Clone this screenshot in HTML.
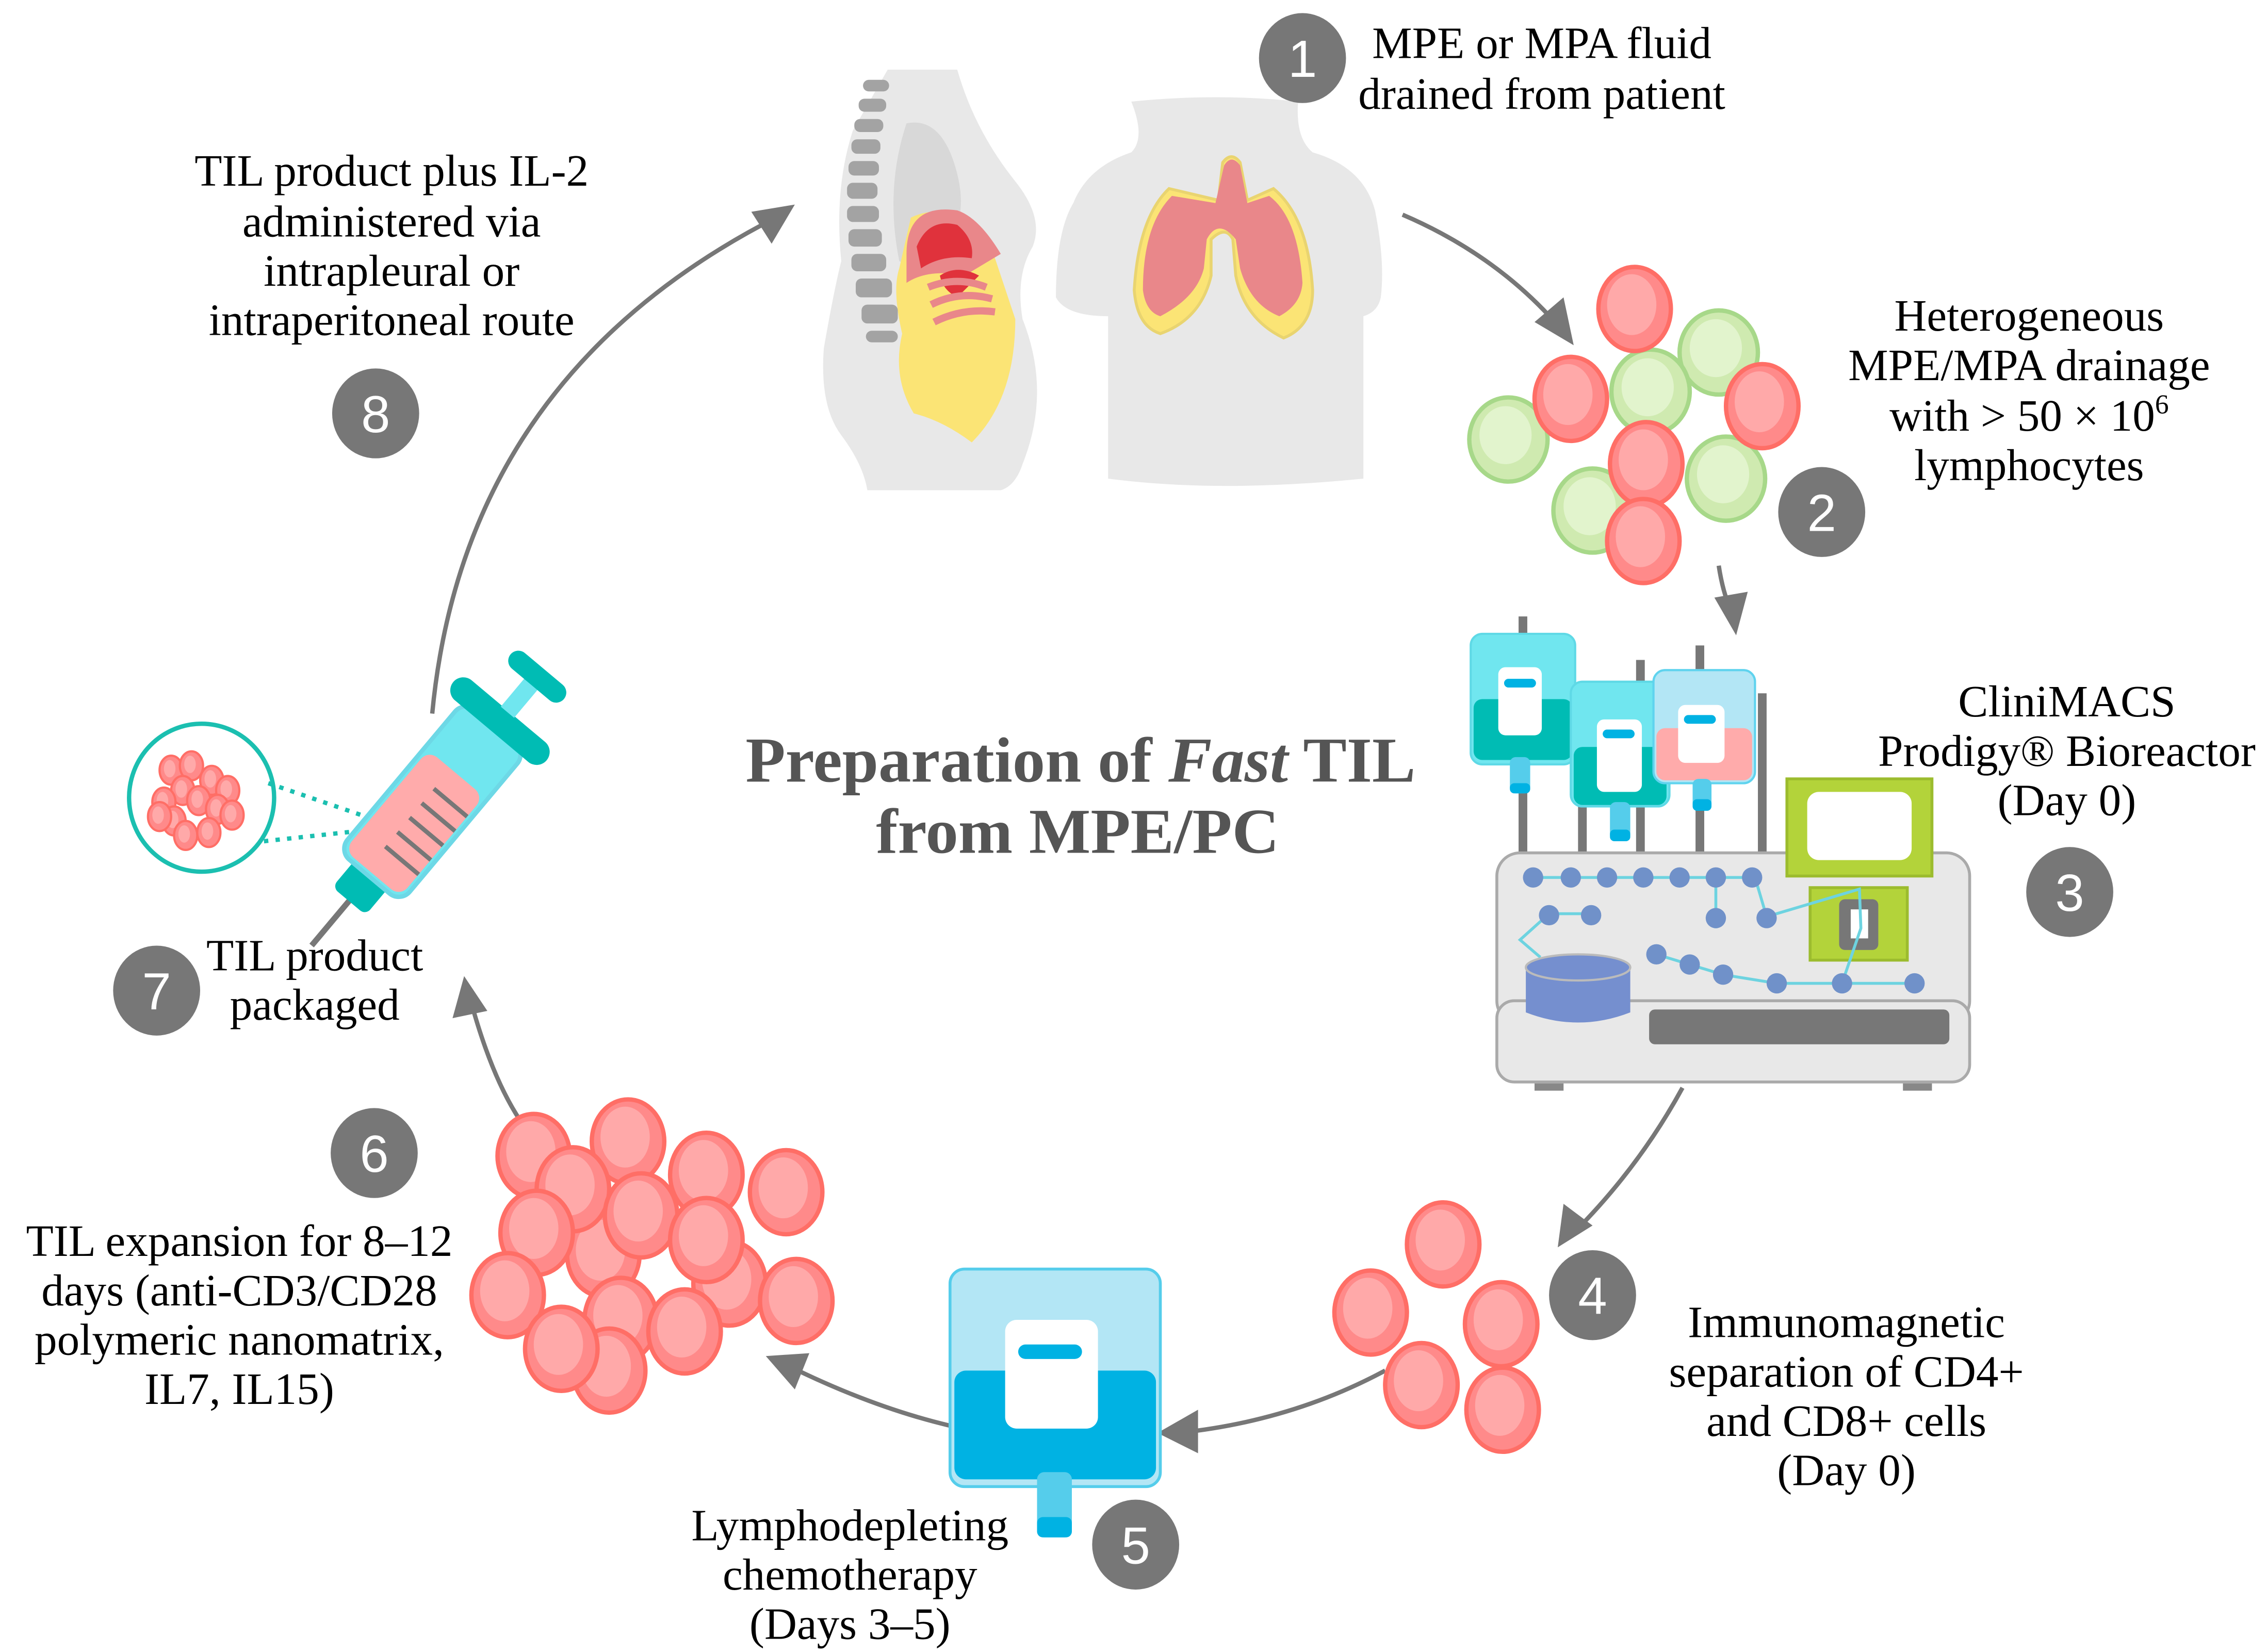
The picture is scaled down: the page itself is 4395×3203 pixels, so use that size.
<!DOCTYPE html>
<html><head><meta charset="utf-8"><style>
html,body{margin:0;padding:0;background:#fff;}
svg{display:block;}
text{font-family:"Liberation Serif",serif;}
text.n{font-family:"Liberation Sans",sans-serif;}
</style></head><body>
<svg width="4395" height="3203" viewBox="0 0 1563 1139" xmlns="http://www.w3.org/2000/svg">
<defs>
<g id="rc"><ellipse rx="25" ry="29" fill="#ff8a8a" stroke="#ff6e66" stroke-width="3"/><ellipse cx="-2" cy="-3" rx="17" ry="21" fill="#ffa9a9"/></g>
<g id="gc"><ellipse rx="27" ry="29" fill="#cfeab0" stroke="#a7d889" stroke-width="3"/><ellipse cx="-2" cy="-3" rx="18" ry="20" fill="#e2f4cd"/></g>
<g id="sc"><ellipse rx="8" ry="10" fill="#ff8a8a" stroke="#ff6e66" stroke-width="1.5"/><ellipse cx="-1" cy="-1" rx="4" ry="6" fill="#ffa9a9"/></g>
</defs>

<!-- arrows -->
<g fill="none" stroke="#777" stroke-width="3">
<path d="M967,148 Q1030,175 1072,222"/>
<path d="M1185,390 Q1188,410 1195,425"/>
<path d="M1160,750 Q1130,805 1085,850"/>
<path d="M955,945 Q890,980 812,988"/>
<path d="M655,983 Q600,970 540,940"/>
<path d="M357,770 Q338,740 324,688"/>
<path d="M298,492 Q320,260 535,150"/>
</g>
<g fill="#777">
<path d="M1085,238 L1058,222 L1078,205 Z"/>
<path d="M1197,438 L1182,412 L1205,408 Z"/>
<path d="M1074,860 L1078,830 L1098,845 Z"/>
<path d="M798,988 L826,972 L826,1002 Z"/>
<path d="M528,935 L558,933 L548,958 Z"/>
<path d="M320,673 L312,702 L336,697 Z"/>
<path d="M548,141 L518,146 L532,168 Z"/>
</g>

<!-- side body -->
<path d="M612,48 L660,48 Q672,90 700,125 Q720,150 712,170 Q700,190 705,220 Q725,270 705,320 Q700,335 690,338 L598,338 Q595,320 580,300 Q565,280 568,240 Q575,200 580,180 Q575,130 588,90 Z" fill="#e8e8e8"/>
<path d="M625,85 Q650,80 660,120 Q665,140 660,155 Q640,150 635,175 Q630,185 620,180 Q610,130 625,85Z" fill="#d8d8d8"/>
<path d="M628,150 Q660,135 685,175 L700,220 Q700,275 670,305 Q650,290 630,285 Q615,260 622,230 Q615,200 620,185 Z" fill="#fbe475"/>
<path d="M625,175 Q625,140 660,145 Q675,150 690,175 L665,190 Q640,185 625,195 Z" fill="#e9878a"/>
<path d="M632,170 Q640,150 660,155 Q672,165 670,178 Q650,175 635,185Z" fill="#e0323c"/>
<path d="M648,190 Q660,182 675,190 L660,205 Q650,200 648,190Z" fill="#e0323c"/>
<path d="M640,198 Q660,190 680,198 M642,210 Q662,200 684,206 M644,222 Q664,212 686,215" stroke="#e9878a" stroke-width="5" fill="none"/>
<g fill="#a3a3a3">
<rect x="595" y="55" width="18" height="8" rx="4"/><rect x="592" y="68" width="19" height="9" rx="4"/><rect x="589" y="82" width="20" height="9" rx="4"/><rect x="587" y="96" width="20" height="10" rx="4"/><rect x="585" y="111" width="21" height="10" rx="4"/><rect x="584" y="126" width="21" height="11" rx="4"/><rect x="584" y="142" width="22" height="11" rx="4"/><rect x="585" y="158" width="23" height="12" rx="4"/><rect x="587" y="175" width="24" height="12" rx="4"/><rect x="590" y="192" width="25" height="13" rx="4"/><rect x="594" y="210" width="25" height="13" rx="4"/><rect x="597" y="228" width="22" height="8" rx="4"/>
</g>
<!-- front torso -->
<path d="M780,70 Q840,64 895,70 Q893,95 905,105 Q940,115 948,145 Q955,180 952,205 Q950,215 940,218 L940,330 Q840,340 764,330 L764,218 Q735,218 728,205 Q728,160 740,140 Q750,115 780,105 Q790,95 780,70Z" fill="#e8e8e8"/>
<path d="M806,130 Q785,150 782,200 Q784,225 800,230 Q828,220 835,190 L835,165 Q845,155 850,165 L852,190 Q858,220 885,233 Q905,225 905,200 Q902,150 878,130 L860,138 L855,112 Q849,104 843,112 L840,138Z" fill="#fbe475" stroke="#e9d470" stroke-width="2"/>
<path d="M808,135 Q788,155 788,200 Q790,215 800,218 Q825,205 830,185 L832,165 Q840,150 852,165 L855,185 Q862,210 882,218 Q897,210 898,195 Q895,150 875,135 L860,140 L855,114 Q849,106 844,114 L838,140Z" fill="#e9878a"/>

<!-- number circles -->
<g fill="#777">
<ellipse cx="898" cy="40" rx="30" ry="31"/>
<ellipse cx="1256" cy="353" rx="30" ry="31"/>
<ellipse cx="1427" cy="615" rx="30" ry="31"/>
<ellipse cx="1098" cy="893" rx="30" ry="31"/>
<ellipse cx="783" cy="1065" rx="30" ry="31"/>
<ellipse cx="258" cy="795" rx="30" ry="31"/>
<ellipse cx="108" cy="683" rx="30" ry="31"/>
<ellipse cx="259" cy="285" rx="30" ry="31"/>
</g>
<g fill="#fff" font-size="36" text-anchor="middle">
<text class="n" x="898" y="53">1</text><text class="n" x="1256" y="366">2</text><text class="n" x="1427" y="628">3</text><text class="n" x="1098" y="906">4</text><text class="n" x="783" y="1078">5</text><text class="n" x="258" y="808">6</text><text class="n" x="108" y="696">7</text><text class="n" x="259" y="298">8</text>
</g>

<!-- cluster 2 -->
<use href="#gc" x="1185" y="243"/><use href="#gc" x="1040" y="303"/><use href="#gc" x="1138" y="270"/><use href="#gc" x="1190" y="330"/><use href="#gc" x="1098" y="352"/>
<use href="#rc" x="1127" y="213"/><use href="#rc" x="1083" y="275"/><use href="#rc" x="1215" y="280"/><use href="#rc" x="1135" y="320"/><use href="#rc" x="1133" y="373"/>

<!-- machine -->
<g fill="#777"><rect x="1047" y="425" width="6" height="165"/><rect x="1088" y="470" width="6" height="120"/><rect x="1128" y="455" width="6" height="135"/><rect x="1169" y="445" width="6" height="145"/><rect x="1212" y="478" width="6" height="112"/></g>
<rect x="1032" y="588" width="326" height="118" rx="16" fill="#e8e8e8" stroke="#aaa" stroke-width="2"/>
<rect x="1032" y="690" width="326" height="56" rx="12" fill="#e8e8e8" stroke="#aaa" stroke-width="2"/>
<rect x="1058" y="747" width="20" height="5" fill="#888"/><rect x="1312" y="747" width="20" height="5" fill="#888"/>
<rect x="1137" y="696" width="207" height="24" rx="4" fill="#777"/>
<rect x="1232" y="537" width="100" height="67" fill="#b3d33a" stroke="#9cbc2e" stroke-width="2"/>
<rect x="1246" y="546" width="72" height="47" rx="8" fill="#fff"/>
<rect x="1248" y="612" width="67" height="50" fill="#b3d33a" stroke="#9cbc2e" stroke-width="2"/>
<rect x="1268" y="620" width="27" height="35" rx="4" fill="#777"/>
<rect x="1276" y="627" width="12" height="20" fill="#fff"/>
<g stroke="#6dd3e0" stroke-width="2" fill="none">
<path d="M1057,605 H1210 M1183,605 V640 M1210,605 L1218,632 L1282,613 L1283,640 L1270,678 M1068,630 H1097 M1068,630 L1048,648 L1062,660 M1142,658 L1165,665 L1188,672 L1225,678 H1320"/>
</g>
<g fill="#7091c9">
<circle cx="1057" cy="605" r="7"/><circle cx="1083" cy="605" r="7"/><circle cx="1108" cy="605" r="7"/><circle cx="1133" cy="605" r="7"/><circle cx="1158" cy="605" r="7"/><circle cx="1183" cy="605" r="7"/><circle cx="1208" cy="605" r="7"/>
<circle cx="1068" cy="631" r="7"/><circle cx="1097" cy="631" r="7"/><circle cx="1183" cy="633" r="7"/><circle cx="1218" cy="633" r="7"/>
<circle cx="1142" cy="658" r="7"/><circle cx="1165" cy="665" r="7"/><circle cx="1188" cy="672" r="7"/><circle cx="1225" cy="678" r="7"/><circle cx="1270" cy="678" r="7"/><circle cx="1320" cy="678" r="7"/>
</g>
<path d="M1052,667 V698 Q1088,712 1124,698 V667 Z" fill="#758fcf"/>
<ellipse cx="1088" cy="667" rx="36" ry="9" fill="#758fcf" stroke="#bbb" stroke-width="1.5"/>
<!-- bags -->
<g>
<rect x="1014" y="437" width="72" height="90" rx="8" fill="#70e6ef" stroke="#5fd9e6" stroke-width="1.5"/>
<rect x="1016" y="482" width="68" height="42" rx="6" fill="#00bcb4"/>
<rect x="1033" y="460" width="30" height="47" rx="5" fill="#fff"/>
<rect x="1037" y="468" width="22" height="6" rx="3" fill="#00b2e3"/>
<rect x="1041" y="522" width="14" height="25" rx="4" fill="#55cdeb"/><rect x="1041" y="540" width="14" height="7" rx="3" fill="#00b2e3"/>
</g>
<g>
<rect x="1083" y="470" width="68" height="86" rx="8" fill="#70e6ef" stroke="#5fd9e6" stroke-width="1.5"/>
<rect x="1085" y="515" width="64" height="40" rx="6" fill="#00bcb4"/>
<rect x="1101" y="496" width="31" height="50" rx="5" fill="#fff"/>
<rect x="1105" y="503" width="22" height="6" rx="3" fill="#00b2e3"/>
<rect x="1110" y="553" width="14" height="27" rx="4" fill="#55cdeb"/><rect x="1110" y="572" width="14" height="8" rx="3" fill="#00b2e3"/>
</g>
<g>
<rect x="1140" y="462" width="70" height="78" rx="8" fill="#b3e6f5" stroke="#5fd3ee" stroke-width="1.5"/>
<rect x="1142" y="502" width="66" height="36" rx="6" fill="#ffabab"/>
<rect x="1157" y="486" width="32" height="40" rx="5" fill="#fff"/>
<rect x="1161" y="493" width="22" height="6" rx="3" fill="#00b2e3"/>
<rect x="1167" y="537" width="13" height="22" rx="4" fill="#55cdeb"/><rect x="1167" y="551" width="13" height="8" rx="3" fill="#00b2e3"/>
</g>

<!-- cluster 4 -->
<use href="#rc" x="995" y="858"/><use href="#rc" x="945" y="905"/><use href="#rc" x="1035" y="913"/><use href="#rc" x="980" y="955"/><use href="#rc" x="1036" y="972"/>

<!-- chemo bag -->
<rect x="655" y="875" width="145" height="150" rx="10" fill="#b3e6f5" stroke="#55cdeb" stroke-width="2"/>
<rect x="658" y="945" width="139" height="75" rx="8" fill="#00b2e3"/>
<rect x="693" y="910" width="64" height="75" rx="8" fill="#fff"/>
<rect x="702" y="927" width="44" height="10" rx="5" fill="#00b2e3"/>
<rect x="715" y="1015" width="24" height="45" rx="5" fill="#55cdeb"/><rect x="715" y="1046" width="24" height="14" rx="4" fill="#00b2e3"/>

<!-- cluster 6 -->
<use href="#rc" x="368" y="797"/><use href="#rc" x="433" y="787"/><use href="#rc" x="487" y="810"/><use href="#rc" x="542" y="822"/>
<use href="#rc" x="503" y="885"/><use href="#rc" x="416" y="865"/><use href="#rc" x="428" y="910"/><use href="#rc" x="420" y="945"/>
<use href="#rc" x="395" y="820"/><use href="#rc" x="370" y="850"/><use href="#rc" x="442" y="838"/><use href="#rc" x="487" y="855"/>
<use href="#rc" x="350" y="893"/><use href="#rc" x="549" y="897"/><use href="#rc" x="472" y="918"/><use href="#rc" x="387" y="930"/>

<!-- magnifier -->
<ellipse cx="139" cy="550" rx="50" ry="51" fill="#fff" stroke="#1bbfb0" stroke-width="3"/>
<g stroke="#1bbfb0" stroke-width="3" stroke-dasharray="3,5" fill="none"><path d="M185,540 L258,565 M182,580 L256,572"/></g>
<use href="#sc" x="118" y="531"/><use href="#sc" x="132" y="528"/><use href="#sc" x="146" y="538"/><use href="#sc" x="157" y="545"/><use href="#sc" x="126" y="545"/><use href="#sc" x="113" y="553"/><use href="#sc" x="137" y="552"/><use href="#sc" x="150" y="558"/><use href="#sc" x="120" y="566"/><use href="#sc" x="160" y="562"/><use href="#sc" x="128" y="576"/><use href="#sc" x="144" y="574"/><use href="#sc" x="110" y="563"/>

<!-- syringe -->
<g transform="translate(292,560) rotate(-50)">
<rect x="-120" y="-2" width="50" height="4" fill="#777"/>
<rect x="-80" y="-15" width="30" height="30" rx="5" fill="#00bcb4"/>
<rect x="-58" y="-28" width="135" height="56" rx="10" fill="#70e6ef" stroke="#6dd8e6" stroke-width="3"/>
<rect x="-55" y="-25" width="90" height="50" rx="8" fill="#ffabab"/>
<g stroke="#777" stroke-width="3"><path d="M-35,-5 V25 M-22,-5 V25 M-9,-5 V25 M4,-5 V25 M17,-5 V25"/></g>
<rect x="73" y="-42" width="18" height="84" rx="9" fill="#00bcb4"/>
<rect x="90" y="-6" width="28" height="12" fill="#70e6ef"/>
<rect x="115" y="-24" width="14" height="48" rx="7" fill="#00bcb4"/>
</g>

<!-- title -->
<g fill="#555" font-weight="bold" font-size="44" text-anchor="middle">
<text x="745" y="539" textLength="462" lengthAdjust="spacingAndGlyphs">Preparation of <tspan font-style="italic">Fast</tspan> TIL</text>
<text x="743" y="588" textLength="278" lengthAdjust="spacingAndGlyphs">from MPE/PC</text>
</g>

<!-- labels -->
<g fill="#000" font-size="31" text-anchor="middle">
<text x="1063" y="40">MPE or MPA fluid</text><text x="1063" y="75">drained from patient</text>
<text x="1399" y="228">Heterogeneous</text><text x="1399" y="262">MPE/MPA drainage</text><text x="1399" y="297">with &gt; 50 × 10<tspan font-size="19" dy="-12">6</tspan></text><text x="1399" y="331">lymphocytes</text>
<text x="1425" y="494">CliniMACS</text><text x="1425" y="528">Prodigy® Bioreactor</text><text x="1425" y="562">(Day 0)</text>
<text x="1273" y="922">Immunomagnetic</text><text x="1273" y="956">separation of CD4+</text><text x="1273" y="990">and CD8+ cells</text><text x="1273" y="1024">(Day 0)</text>
<text x="586" y="1062">Lymphodepleting</text><text x="586" y="1096">chemotherapy</text><text x="586" y="1130">(Days 3–5)</text>
<text x="165" y="866">TIL expansion for 8–12</text><text x="165" y="900">days (anti-CD3/CD28</text><text x="165" y="934">polymeric nanomatrix,</text><text x="165" y="968">IL7, IL15)</text>
<text x="217" y="669">TIL product</text><text x="217" y="703">packaged</text>
<text x="270" y="128">TIL product plus IL-2</text><text x="270" y="163">administered via</text><text x="270" y="197">intrapleural or</text><text x="270" y="231">intraperitoneal route</text>
</g>
</svg>
</body></html>
